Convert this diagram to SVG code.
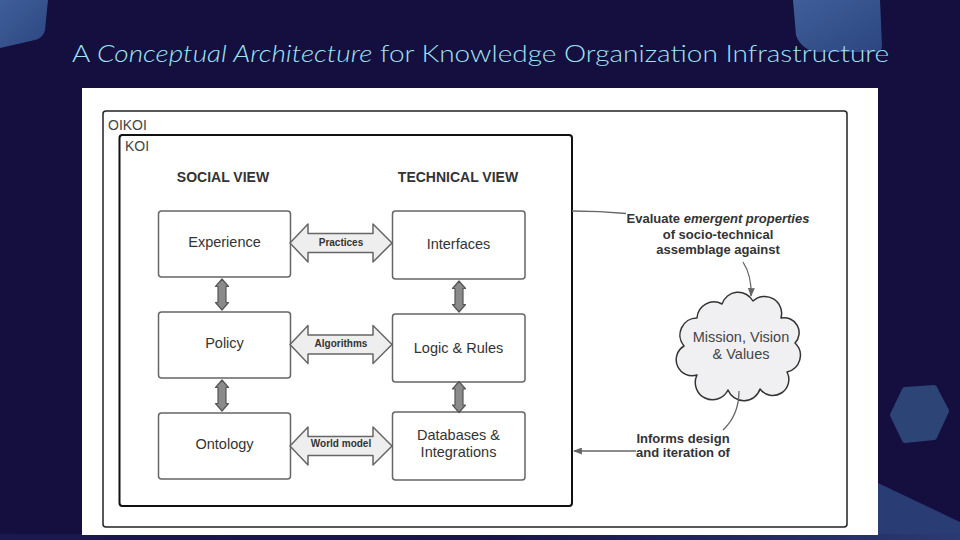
<svg xmlns="http://www.w3.org/2000/svg" width="960" height="540" viewBox="0 0 960 540">
  <defs>
    <linearGradient id="gDeco" x1="0" y1="0" x2="1" y2="1">
      <stop offset="0" stop-color="#3f5f9a"/>
      <stop offset="1" stop-color="#2c4680"/>
    </linearGradient>
    <linearGradient id="gBottom" x1="0" y1="0" x2="1" y2="0">
      <stop offset="0" stop-color="#1a1850"/>
      <stop offset="0.5" stop-color="#17154a"/>
      <stop offset="1" stop-color="#2a3a72"/>
    </linearGradient>
    <marker id="arrowHead" viewBox="0 0 10 8" refX="9" refY="4" markerWidth="9" markerHeight="7" markerUnits="userSpaceOnUse" orient="auto">
      <path d="M0,0 L10,4 L0,8 Z" fill="#666"/>
    </marker>
    <path id="hArrow" d="M -51 0 L -33 -19 L -33 -9.5 L 32 -9.5 L 32 -19 L 51 0 L 32 19 L 32 9.5 L -33 9.5 L -33 19 Z"/>
    <path id="vArrow" d="M 0 -15.5 L 6.5 -8 L 4 -8 L 4 8 L 6.5 8 L 0 15.5 L -6.5 8 L -4 8 L -4 -8 L -6.5 -8 Z"/>
  </defs>
  <style>
    .box { fill: #ffffff; stroke: #666666; stroke-width: 1.5; }
    .lbl { font-family: "Liberation Sans", Arial, sans-serif; font-size: 14.5px; fill: #333333; text-anchor: middle; }
    .head { font-family: "Liberation Sans", Arial, sans-serif; font-size: 14px; font-weight: bold; fill: #333333; text-anchor: middle; }
    .cont { font-family: "Liberation Sans", Arial, sans-serif; font-size: 14px; fill: #444444; }
    .alab { font-family: "Liberation Sans", Arial, sans-serif; font-size: 10px; font-weight: bold; fill: #333333; text-anchor: middle; }
    .note { font-family: "Liberation Sans", Arial, sans-serif; font-size: 13px; font-weight: bold; fill: #333333; text-anchor: middle; }
    .harr { fill: #eeeeee; stroke: #666666; stroke-width: 1.5; stroke-linejoin: round; }
    .varr { fill: #8a8a8a; stroke: #555555; stroke-width: 1.2; stroke-linejoin: round; }
    .conn { fill: none; stroke: #666666; stroke-width: 1.3; }
  </style>

  <!-- background -->
  <rect x="0" y="0" width="960" height="540" fill="#140f3f"/>
  <path d="M 0 0 L 48 0 L 45 30 Q 43 38 35 40 L 0 48 Z" fill="url(#gDeco)"/>
  <path d="M 793 0 L 880 0 L 882 46 Q 882 52 875 52 L 818 52 Q 801 50 796 35 Z" fill="url(#gDeco)"/>
  <polygon points="905,390 934,388 946,411 934,437 905,440 893,415" fill="#2d4576" stroke="#2d4576" stroke-width="6" stroke-linejoin="round"/>
  <polygon points="878,483 960,522 960,540 878,540" fill="#2a3c74"/>
  <rect x="0" y="534" width="960" height="6" fill="url(#gBottom)"/>

  <!-- title -->
  <text x="72" y="62" font-family="Lato, 'Open Sans', sans-serif" font-weight="300" font-size="24" fill="#9fe4f2" textLength="817" lengthAdjust="spacingAndGlyphs">A <tspan font-style="italic">Conceptual Architecture</tspan> for Knowledge Organization Infrastructure</text>

  <!-- panel -->
  <rect x="82" y="88" width="796" height="447" fill="#ffffff"/>

  <g id="oikoi">
    <rect x="103" y="111" width="744" height="416" rx="3" fill="none" stroke="#222222" stroke-width="1.5"/>
    <text class="cont" x="108" y="130">OIKOI</text>
  </g>
  <g id="koi">
    <rect x="119.5" y="135" width="452.5" height="371" rx="3" fill="none" stroke="#111111" stroke-width="2"/>
    <text class="cont" x="125" y="151">KOI</text>
  </g>

  <g id="headers">
    <text class="head" x="223" y="181.5">SOCIAL VIEW</text>
    <text class="head" x="458" y="181.5">TECHNICAL VIEW</text>
  </g>

  <g id="experience">
    <rect class="box" x="158.5" y="211" width="132" height="66" rx="3"/>
    <text class="lbl" x="224.5" y="246.5">Experience</text>
  </g>
  <g id="policy">
    <rect class="box" x="158.5" y="312" width="132" height="66" rx="3"/>
    <text class="lbl" x="224.5" y="347.5">Policy</text>
  </g>
  <g id="ontology">
    <rect class="box" x="158.5" y="413" width="132" height="66" rx="3"/>
    <text class="lbl" x="224.5" y="449">Ontology</text>
  </g>
  <g id="interfaces">
    <rect class="box" x="392.5" y="211" width="132.5" height="68" rx="3"/>
    <text class="lbl" x="458.5" y="249">Interfaces</text>
  </g>
  <g id="logic">
    <rect class="box" x="392.5" y="314" width="132.5" height="68" rx="3"/>
    <text class="lbl" x="458.5" y="352.5">Logic &amp; Rules</text>
  </g>
  <g id="databases">
    <rect class="box" x="392.5" y="412" width="132.5" height="68" rx="3"/>
    <text class="lbl" x="458.5" y="439.5">Databases &amp;</text>
    <text class="lbl" x="458.5" y="456.5">Integrations</text>
  </g>

  <g id="mission">
    <path d="M 684 346 A 17 17 0 0 1 697 318 A 17 17 0 0 1 722 304 A 17 17 0 0 1 753 301 A 17 17 0 0 1 781 318 A 15 15 0 0 1 795 343 A 17 17 0 0 1 787 372 A 16 16 0 0 1 760 389 A 17 17 0 0 1 728 390 A 17 17 0 0 1 697 375 A 16 16 0 0 1 684 346 Z" fill="#f0f0f3" stroke="#333333" stroke-width="1.5" stroke-linejoin="round"/>
    <text class="lbl" x="741" y="342" style="fill:#444">Mission, Vision</text>
    <text class="lbl" x="741" y="358.5" style="fill:#444">&amp; Values</text>
  </g>

  <g id="connectors">
    <use href="#hArrow" class="harr" transform="translate(341,243)"/>
    <text class="alab" x="341" y="246">Practices</text>
    <use href="#hArrow" class="harr" transform="translate(341,344.5)"/>
    <text class="alab" x="341" y="346.5">Algorithms</text>
    <use href="#hArrow" class="harr" transform="translate(341,446)"/>
    <text class="alab" x="341" y="447">World model</text>

    <use href="#vArrow" class="varr" transform="translate(222,294.5)"/>
    <use href="#vArrow" class="varr" transform="translate(222,395.5)"/>
    <use href="#vArrow" class="varr" transform="translate(459,296.5)"/>
    <use href="#vArrow" class="varr" transform="translate(459,397)"/>

    <path class="conn" d="M 572 211 Q 600 211 626 213.5" stroke-width="1"/>
    <text class="note" x="718" y="223">Evaluate <tspan font-style="italic">emergent properties</tspan></text>
    <text class="note" x="718" y="238.5">of socio-technical</text>
    <text class="note" x="718" y="254">assemblage against</text>
    <path class="conn" d="M 743 262 Q 752 276 751 296" marker-end="url(#arrowHead)"/>

    <path class="conn" d="M 739 391 Q 739 415 723 430"/>
    <text class="note" x="683" y="442.5">Informs design</text>
    <text class="note" x="683" y="457">and iteration of</text>
    <path class="conn" d="M 636 451 L 574 451" marker-end="url(#arrowHead)"/>
  </g>
</svg>
